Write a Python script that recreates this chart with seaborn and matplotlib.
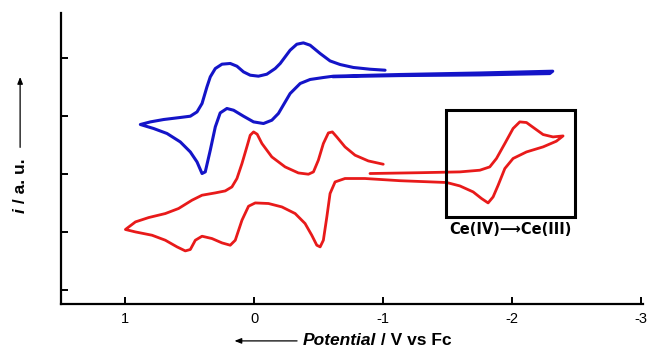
import matplotlib
matplotlib.use("Agg")
import matplotlib.pyplot as plt
import seaborn as sns
import pandas as pd
from matplotlib.patches import Rectangle, FancyArrowPatch

# ---- data (potential in V vs Fc, current in arbitrary offset units) ----
blue_x = [-1.016, -0.899, -0.770, -0.667, -0.589, -0.512, -0.434, -0.382, -0.331,
          -0.279, -0.202, -0.163, -0.098, -0.033, 0.031, 0.083, 0.134, 0.186,
          0.250, 0.302, 0.341, 0.367, 0.405, 0.444, 0.496, 0.574, 0.703, 0.806,
          0.884,
          0.781, 0.677, 0.574, 0.496, 0.444, 0.405, 0.380, 0.341, 0.302, 0.264,
          0.212, 0.160, 0.083, 0.005, -0.072, -0.137, -0.188, -0.279, -0.357,
          -0.434, -0.537, -0.615, -1.132, -1.750, -2.318,
          -2.295, -1.750, -1.130, -0.610]
blue_y = [3.793, 3.810, 3.840, 3.891, 3.953, 4.081, 4.224, 4.264, 4.241,
          4.138, 3.909, 3.822, 3.724, 3.690, 3.707, 3.764, 3.862, 3.909,
          3.897, 3.822, 3.678, 3.505, 3.219, 3.074, 3.000, 2.978, 2.943, 2.902,
          2.857,
          2.788, 2.702, 2.557, 2.384, 2.212, 2.012, 2.040, 2.414, 2.816, 3.057,
          3.133, 3.103, 3.000, 2.902, 2.874, 2.931, 3.047, 3.391, 3.564,
          3.633, 3.667, 3.690, 3.719, 3.745, 3.776,
          3.735, 3.712, 3.700, 3.680]

red_x = [-0.899, -1.287, -1.597, -1.752, -1.829, -1.881, -1.946, -2.010, -2.062,
         -2.114, -2.178, -2.243, -2.320, -2.398, -2.346, -2.243, -2.114, -2.010,
         -1.946, -1.894, -1.855, -1.816, -1.765, -1.700, -1.597, -1.494, -1.132,
         -0.860, -0.705, -0.628, -0.589, -0.564, -0.537, -0.512, -0.486, -0.447,
         -0.395, -0.318, -0.215, -0.111, -0.008, 0.044, 0.095, 0.147, 0.186,
         0.250, 0.328, 0.405, 0.457, 0.496, 0.535, 0.599, 0.690, 0.793, 0.922,
         1.000, 0.922, 0.819, 0.690, 0.587, 0.483, 0.405, 0.302, 0.225, 0.173,
         0.134, 0.095, 0.057, 0.031, 0.005, -0.023, -0.060, -0.137, -0.240,
         -0.343, -0.421, -0.460, -0.498, -0.537, -0.576, -0.607, -0.641, -0.705,
         -0.783, -0.886, -1.002]
red_y = [2.012, 2.026, 2.040, 2.069, 2.126, 2.271, 2.529, 2.788, 2.902,
         2.891, 2.788, 2.684, 2.643, 2.660, 2.569, 2.471, 2.384, 2.271,
         2.098, 1.810, 1.609, 1.505, 1.581, 1.695, 1.798, 1.857, 1.888,
         1.926, 1.926, 1.867, 1.667, 1.264, 0.862, 0.747, 0.776, 0.948,
         1.150, 1.322, 1.436, 1.495, 1.505, 1.448, 1.207, 0.862, 0.776,
         0.816, 0.891, 0.931, 0.862, 0.702, 0.678, 0.747, 0.862, 0.948, 1.005,
         1.047, 1.178, 1.253, 1.322, 1.409, 1.552, 1.638, 1.678, 1.712, 1.781,
         1.926, 2.184, 2.471, 2.672, 2.729, 2.690, 2.529, 2.298, 2.126,
         2.022, 2.000, 2.040, 2.241, 2.529, 2.712, 2.729, 2.643, 2.471,
         2.328, 2.229, 2.172]

x_ticks = [1, 0, -1, -2, -3]
x_tick_labels = ["1", "0", "-1", "-2", "-3"]
y_ticks = [0, 1, 2, 3, 4]

box_x = (-1.49, -2.49)
box_y = (1.26, 3.10)
box_label = "Ce(IV)\u27f6Ce(III)"

# ---- plotting ----
sns.set_style("ticks")
plt.rcParams["font.family"] = ["Liberation Sans", "DejaVu Sans"]
plt.rcParams["text.color"] = "black"
plt.rcParams["axes.edgecolor"] = "black"
plt.rcParams["xtick.color"] = "black"
plt.rcParams["ytick.color"] = "black"

fig = plt.figure(figsize=(6.49, 3.5), dpi=100)
ax = fig.add_axes([0.094, 0.131, 0.897, 0.832])

df_b = pd.DataFrame({"x": blue_x, "y": blue_y})
df_r = pd.DataFrame({"x": red_x, "y": red_y})
sns.lineplot(data=df_b, x="x", y="y", sort=False, estimator=None,
             color="#1414c8", lw=2.2, ax=ax,
             solid_joinstyle="round", solid_capstyle="round")
sns.lineplot(data=df_r, x="x", y="y", sort=False, estimator=None,
             color="#e81a1a", lw=2.0, ax=ax,
             solid_joinstyle="round", solid_capstyle="round")

ax.add_patch(Rectangle((box_x[0], box_y[0]), box_x[1] - box_x[0],
                       box_y[1] - box_y[0], fill=False, lw=2.2,
                       edgecolor="black", zorder=3))
ax.text((box_x[0] + box_x[1]) / 2, box_y[0] - 0.22, box_label,
        ha="center", va="center", fontsize=10.5, fontweight="bold",
        family=["DejaVu Sans"])

ax.set_xlim(1.5, -3.02)
ax.set_ylim(-0.24, 4.78)
ax.set_xticks(x_ticks)
ax.set_xticklabels(x_tick_labels)
ax.set_yticks(y_ticks)
ax.set_yticklabels([])
ax.set_xlabel("")
ax.set_ylabel("")
sns.despine(ax=ax)
for s in ["left", "bottom"]:
    ax.spines[s].set_linewidth(1.6)
ax.tick_params(direction="in", length=5, width=1.4, labelsize=10.5, pad=6)

# y label with arrow
t_i = fig.text(0.031, 0.391, "i", rotation=90, ha="center", va="bottom",
               fontsize=12.5, fontweight="bold", fontstyle="italic")
ax.annotate(" / a. u.", xy=(0.5, 1.0), xycoords=t_i, rotation=90,
            ha="center", va="bottom", fontsize=12.5, fontweight="bold",
            annotation_clip=False)
fig.add_artist(FancyArrowPatch(
    (0.031, 0.571), (0.031, 0.788), transform=fig.transFigure,
    arrowstyle="-|>,head_length=4,head_width=1.6", lw=0.9, color="black"))

# x label with arrow
t_p = fig.text(0.467, 0.026, "Potential", ha="left", va="center",
               fontsize=12.5, fontweight="bold", fontstyle="italic")
ax.annotate(" / V vs Fc", xy=(1.0, 0.5), xycoords=t_p, ha="left",
            va="center", fontsize=12.5, fontweight="bold",
            annotation_clip=False)
fig.add_artist(FancyArrowPatch(
    (0.462, 0.026), (0.357, 0.026), transform=fig.transFigure,
    arrowstyle="-|>,head_length=4,head_width=1.6", lw=0.9, color="black"))

fig.savefig("out.png", dpi=100)
